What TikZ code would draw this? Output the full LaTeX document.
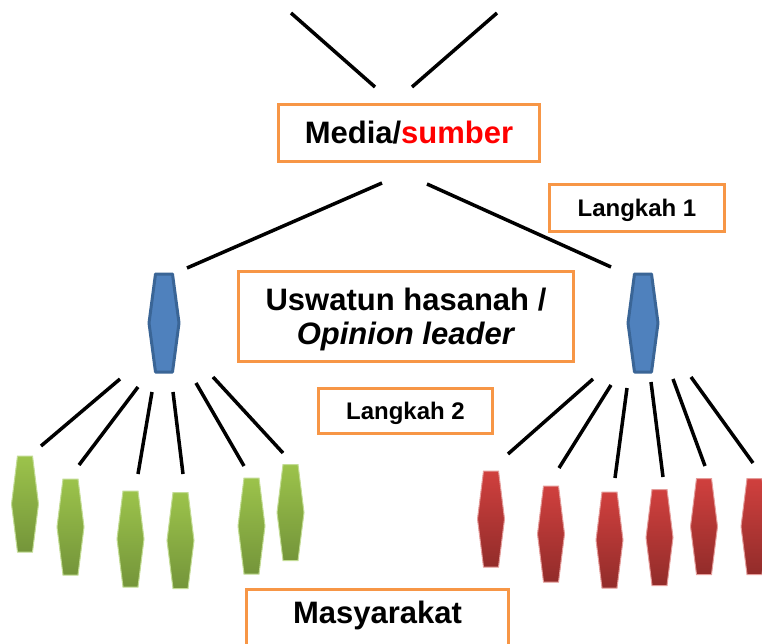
\documentclass[tikz,border=0pt]{standalone}
\usepackage{fontspec}
\setmainfont{Liberation Sans}
\definecolor{orangeb}{HTML}{F79646}
\definecolor{blueF}{HTML}{4F81BD}
\definecolor{blueD}{HTML}{3A6596}
\definecolor{greenT}{HTML}{9CC34B}
\definecolor{greenB}{HTML}{74953A}
\definecolor{greenE}{HTML}{C3DC95}
\definecolor{redT}{HTML}{D0403E}
\definecolor{redB}{HTML}{922C2A}
\definecolor{redE}{HTML}{E49C9A}
\definecolor{pureRed}{HTML}{FF0000}
\tikzset{
  box/.style={draw=orangeb, line width=3pt, fill=white, inner sep=0pt, align=center,
    font=\bfseries\fontsize{31}{34}\selectfont, text height=22pt, text depth=0pt},
  smallbox/.style={box, font=\bfseries\fontsize{24}{28}\selectfont, text height=17pt},
  conn/.style={line width=3.5pt, black},
  hexbig/.pic={\path[pic actions] (-8.5,-49) -- (8.5,-49) -- (15,0) -- (8.5,49) -- (-8.5,49) -- (-15,0) -- cycle;},
  hexsmall/.pic={\path[pic actions] (-7.5,-48) -- (7.5,-48) -- (13.5,0) -- (7.5,48) -- (-7.5,48) -- (-13.5,0) -- cycle;},
  bluehex/.style={fill=blueF, draw=blueD, line width=3pt, line join=round},
  greenhex/.style={top color=greenT, bottom color=greenB, draw=greenE, line width=1pt},
  redhex/.style={top color=redT, bottom color=redB, draw=redE, line width=1pt},
}
\begin{document}
\begin{tikzpicture}[x=1pt, y=-1pt]
\clip (0,0) rectangle (762,644);
\fill[white] (0,0) rectangle (762,644);

% boxes
\node[box, minimum width=261pt, minimum height=57pt] (media) at (409,133) {Media/{\color{pureRed}sumber}};
\node[smallbox, minimum width=175pt, minimum height=47pt] (lk1) at (637,208) {Langkah 1};
\node[box, minimum width=335pt, minimum height=90pt, text height=56pt, text depth=0pt] (usw) at (406,316.5)
  {Uswatun hasanah /\\ \textit{Opinion leader}};
\node[smallbox, minimum width=174pt, minimum height=45pt] (lk2) at (405.5,411) {Langkah 2};
\node[box, minimum width=262pt, minimum height=62pt, text depth=17pt] (mas) at (377.5,620.5) {Masyarakat};

% hexagons
\pic[bluehex] (b1) at (164,323) {hexbig};
\pic[bluehex] (b2) at (643,323) {hexbig};

\pic[greenhex] (g1) at (25,504) {hexsmall};
\pic[greenhex] (g2) at (70.5,527) {hexsmall};
\pic[greenhex] (g3) at (130.5,539) {hexsmall};
\pic[greenhex] (g4) at (180.5,540.5) {hexsmall};
\pic[greenhex] (g5) at (251.5,526) {hexsmall};
\pic[greenhex] (g6) at (290.5,512.5) {hexsmall};

\pic[redhex] (r1) at (491,519) {hexsmall};
\pic[redhex] (r2) at (551,534) {hexsmall};
\pic[redhex] (r3) at (609.5,540) {hexsmall};
\pic[redhex] (r4) at (659.5,537.5) {hexsmall};
\pic[redhex] (r5) at (704,526.5) {hexsmall};
\pic[redhex] (r6) at (754.5,526.5) {hexsmall};

% connector end points
\coordinate (t1a) at (291,13);  \coordinate (t1b) at (375,87);
\coordinate (t2a) at (497,13);  \coordinate (t2b) at (412,87);
\coordinate (m1a) at (382,183); \coordinate (m1b) at (187,268);
\coordinate (m2a) at (427,184); \coordinate (m2b) at (611,267);

\coordinate (l1a) at (120,379); \coordinate (l1b) at (41,446);
\coordinate (l2a) at (138,387); \coordinate (l2b) at (79,465);
\coordinate (l3a) at (152,392); \coordinate (l3b) at (138,474);
\coordinate (l4a) at (173,392); \coordinate (l4b) at (183,474);
\coordinate (l5a) at (196,383); \coordinate (l5b) at (244,466);
\coordinate (l6a) at (213,377); \coordinate (l6b) at (283,453);

\coordinate (q1a) at (593,379); \coordinate (q1b) at (508,454);
\coordinate (q2a) at (611,385); \coordinate (q2b) at (559,468);
\coordinate (q3a) at (627,388); \coordinate (q3b) at (615,478);
\coordinate (q4a) at (651,382); \coordinate (q4b) at (663,477);
\coordinate (q5a) at (673,379); \coordinate (q5b) at (705,466);
\coordinate (q6a) at (691,377); \coordinate (q6b) at (753,463);

\foreach \c in {t1,t2,m1,m2,l1,l2,l3,l4,l5,l6,q1,q2,q3,q4,q5,q6}
  \draw[conn] (\c a) -- (\c b);
\end{tikzpicture}
\end{document}
